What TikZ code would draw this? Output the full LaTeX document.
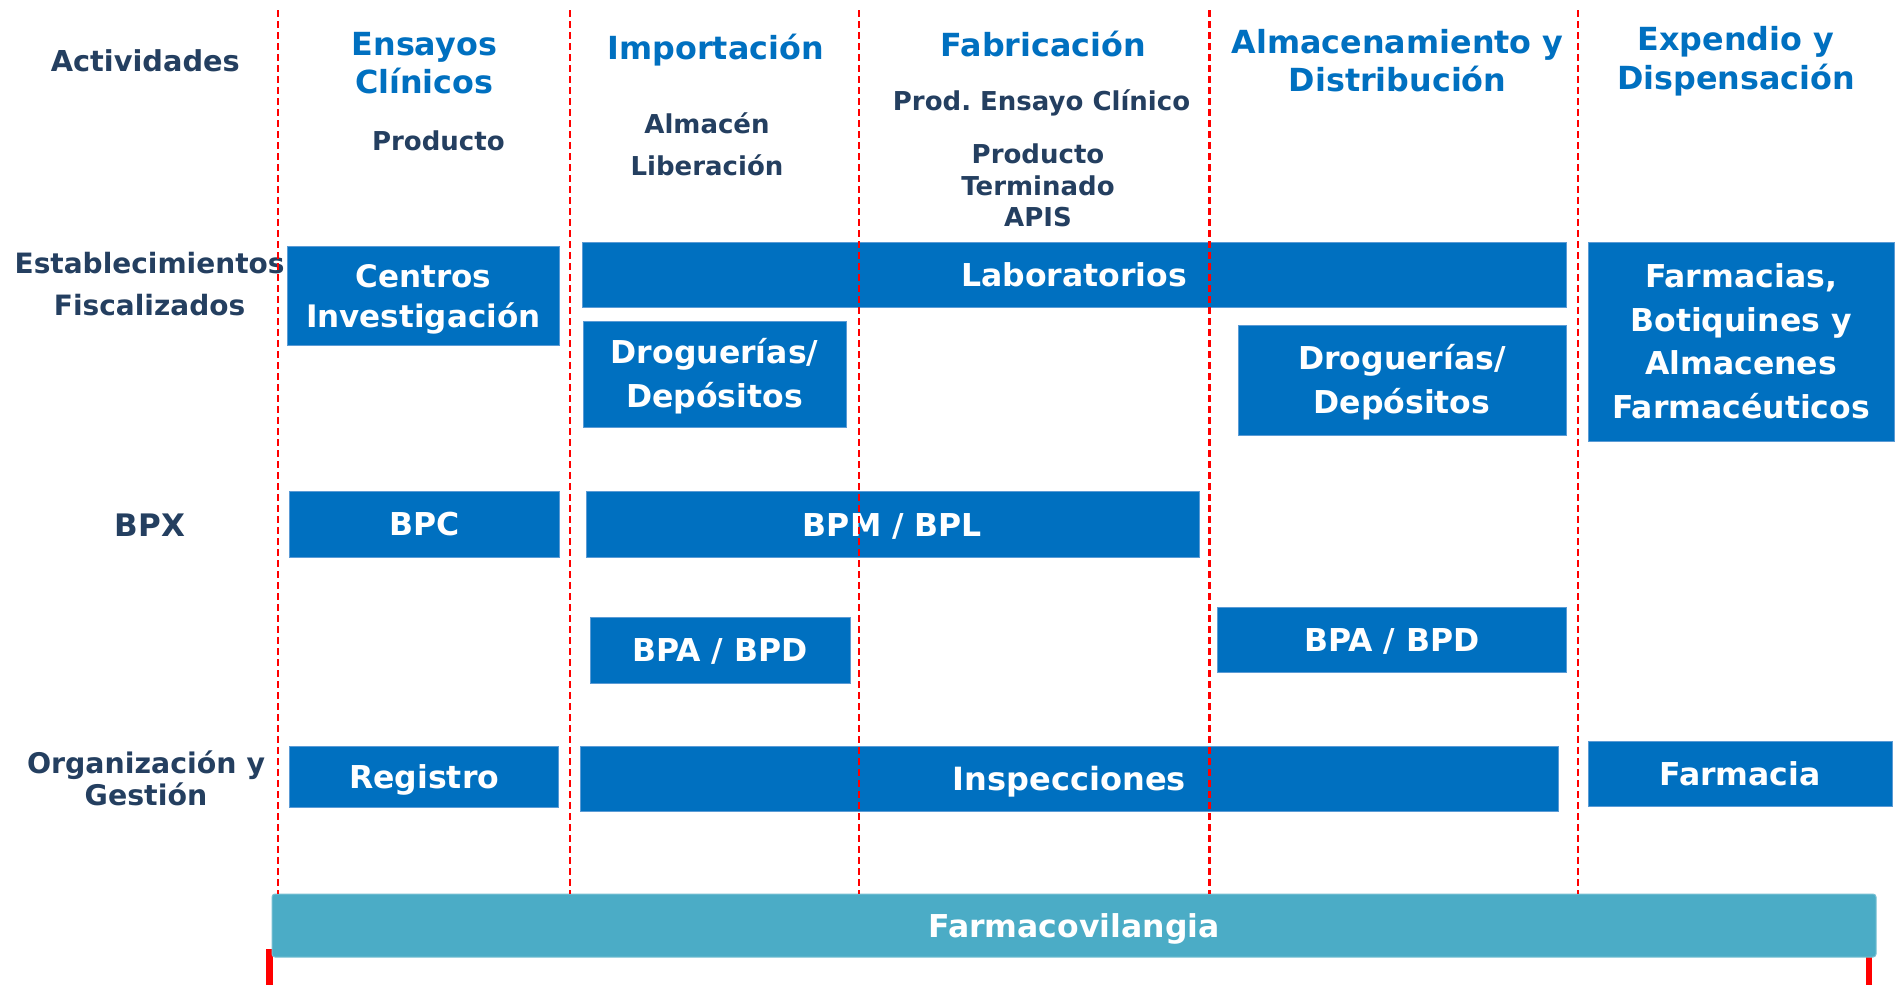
\documentclass[tikz,border=0pt]{standalone}
\usepackage{fontspec}
\setmainfont{DejaVu Sans}
\usepackage{array}
\definecolor{boxblue}{HTML}{0070C0}
\definecolor{boxedge}{HTML}{5B9BD5}
\definecolor{hdrblue}{HTML}{0070C0}
\definecolor{navytxt}{HTML}{243F60}
\definecolor{fvteal}{HTML}{4BACC6}
\definecolor{fvedge}{HTML}{78C0D3}
\newcommand\ml[3]{{\fontsize{#1}{#2}\selectfont\begin{tabular}[t]{@{}c@{}}#3\end{tabular}}}
\tikzset{
  boxnode/.style={fill=boxblue, draw=boxedge, line width=0.5pt, text=white,
    font=\bfseries\fontsize{15.75pt}{19pt}\selectfont, inner sep=0pt,
    text height=11.5pt, text depth=0pt, align=center},
  fvbar/.style={fill=fvteal, draw=fvedge, line width=0.5pt, rounded corners=1.5pt, text=white,
    font=\bfseries\fontsize{15.75pt}{19pt}\selectfont, inner sep=0pt,
    text height=11.5pt, text depth=0pt},
  hdr/.style={text=hdrblue, font=\bfseries\fontsize{15.9pt}{19pt}\selectfont, anchor=base, inner sep=0pt},
  rowlab/.style={text=navytxt, font=\bfseries\fontsize{14.2pt}{17pt}\selectfont, anchor=base, inner sep=0pt},
  sublab/.style={text=navytxt, font=\bfseries\fontsize{13pt}{16pt}\selectfont, anchor=base, inner sep=0pt},
  guide/.style={red, line width=1.2pt, dash pattern=on 3.5pt off 2pt},
  redmark/.style={red, line width=3.5pt}
}
\begin{document}
\begin{tikzpicture}[x=0.5pt,y=-0.5pt]
\useasboundingbox (0,0) rectangle (1899,985);
\fill[white] (0,0) rectangle (1899,985);

% red end marks (behind bar)
\coordinate (mlt) at (269.5,949); \coordinate (mlb) at (269.5,985);
\coordinate (mrt) at (1869,949); \coordinate (mrb) at (1869,985);
\draw[redmark] (mlt) -- (mlb);
\draw[redmark, line width=3pt] (mrt) -- (mrb);

% row labels
\node[rowlab, font=\bfseries\fontsize{14.4pt}{17pt}\selectfont] (act) at (145.3,71.7) {Actividades};
\node[rowlab, font=\bfseries\fontsize{14pt}{17pt}\selectfont] (est) at (149.6,273.3) {\ml{14pt}{20.85pt}{Establecimientos\\Fiscalizados}};
\node[rowlab, font=\bfseries\fontsize{15.5pt}{18pt}\selectfont] (bpx) at (150,536) {BPX};
\node[rowlab] (org) at (146,773.3) {\ml{14.2pt}{15.85pt}{Organización y\\Gestión}};

% column headers
\node[hdr] (h1) at (424.3,55) {\ml{15.9pt}{19pt}{Ensayos\\Clínicos}};
\node[hdr] (h2) at (715.8,59) {Importación};
\node[hdr] (h3) at (1043.4,56.7) {Fabricación};
\node[hdr] (h4) at (1397.6,53) {\ml{15.9pt}{19.35pt}{Almacenamiento y\\Distribución}};
\node[hdr] (h5) at (1736,50.7) {\ml{15.9pt}{19.3pt}{Expendio y\\Dispensación}};

% sub labels
\node[sublab] (s1) at (438.4,150) {Producto};
\node[sublab] (s2) at (707,133) {\ml{13pt}{21pt}{Almacén\\Liberación}};
\node[sublab] (s3) at (1041.5,110) {Prod.\ Ensayo Clínico};
\node[sublab] (s4) at (1038,163.3) {\ml{13pt}{15.85pt}{Producto\\Terminado\\APIS}};

% boxes
\node[boxnode, minimum width=136.25pt, minimum height=49.25pt, text depth=20pt] (centros) at (423.25,295.75) {\ml{15.5pt}{20pt}{Centros\\Investigación}};
\node[boxnode, minimum width=492pt, minimum height=32.5pt] (lab) at (1074,274.5) {Laboratorios};
\node[boxnode, minimum width=131.5pt, minimum height=53pt, text depth=21.7pt] (drog1) at (714.5,374) {\ml{15.75pt}{21.7pt}{Droguerías/\\Depósitos}};
\node[boxnode, minimum width=164pt, minimum height=55pt, text depth=22pt] (drog2) at (1402,380) {\ml{15.75pt}{22pt}{Droguerías/\\Depósitos}};
\node[boxnode, minimum width=153pt, minimum height=99.5pt, text depth=65.4pt] (farmacias) at (1741,341.5) {\ml{15.75pt}{21.8pt}{Farmacias,\\Botiquines y\\Almacenes\\Farmacéuticos}};
\node[boxnode, minimum width=135pt, minimum height=33pt] (bpc) at (424.5,524) {BPC};
\node[boxnode, minimum width=306.5pt, minimum height=33pt] (bpm) at (892.5,524.7) {BPM / BPL};
\node[boxnode, minimum width=130pt, minimum height=32.65pt] (bpa1) at (720,650.35) {BPA / BPD};
\node[boxnode, minimum width=174.85pt, minimum height=32.85pt] (bpa2) at (1391.85,639.85) {BPA / BPD};
\node[boxnode, minimum width=134.5pt, minimum height=30.5pt] (reg) at (424.2,776.5) {Registro};
\node[boxnode, minimum width=489.35pt, minimum height=32.85pt, font=\bfseries\fontsize{16pt}{19pt}\selectfont] (insp) at (1069.35,778.85) {Inspecciones};
\node[boxnode, minimum width=152pt, minimum height=32.85pt] (farm) at (1740,773.85) {Farmacia};
\node[fvbar, minimum width=802pt, minimum height=31.5pt] (fv) at (1074,925.5) {Farmacovilangia};

% dashed column separators
\foreach \xx in {278,570,858.7,1209.3,1578}{
  \draw[guide] (\xx,10) -- (\xx,894);
}
\end{tikzpicture}
\end{document}
